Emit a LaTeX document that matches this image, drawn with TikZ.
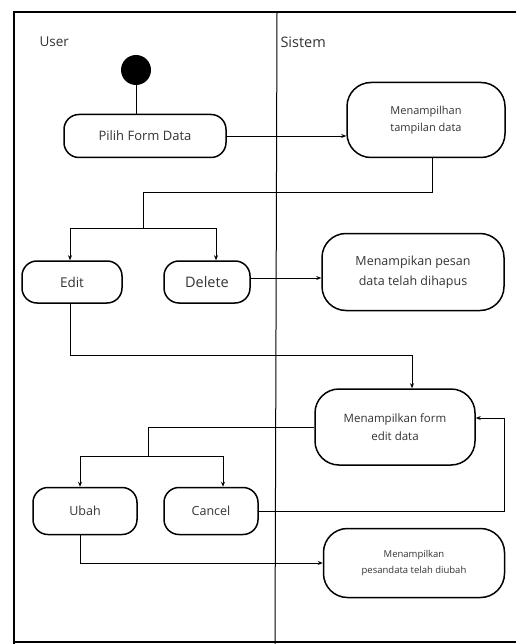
\documentclass[tikz,border=0pt]{standalone}
\usepackage{fontspec}
\setmainfont{Open Sans}
\usetikzlibrary{arrows.meta,positioning}

\begin{document}
\begin{tikzpicture}[
    x=1pt, y=1pt,
    font=\fontsize{11}{14}\selectfont,
    aksi/.style={draw, line width=1.5pt, rounded corners=15pt, align=center,
                 inner sep=2pt, text=black!80},
    sistem/.style={aksi, rounded corners=24pt},
    ukuran/.style={font=\fontsize{#1}{1.6\dimexpr #1pt\relax}\selectfont},
    mulai/.style={circle, fill=black, minimum size=30pt, inner sep=0pt},
    garis/.style={line width=0.9pt},
    panah/.style={-{Stealth[length=5pt, width=4pt]}, line width=0.9pt}
  ]
    \useasboundingbox (0,0) rectangle (516,-644);
    % swimlanes
    \draw[line width=1.2pt] (14,-644) -- (14,-12) -- (516,-12);
    \draw[line width=1.2pt] (14,-642) -- (516,-642);
    \draw[line width=1pt] (277,-12) -- (275,-644);
    \node[anchor=west, text=black!80, ukuran=13.5] (user) at (36,-42) {User};
    \node[anchor=west, text=black!80, ukuran=14.5] (sis) at (277,-42) {Sistem};

    \node[mulai] (awal) at (136,-70) {};
    \node[aksi, ukuran=13, minimum width=162pt, minimum height=43pt] (pilih) at (145,-136) {Pilih Form Data};
    \node[sistem, ukuran=11, minimum width=158pt, minimum height=75pt] (tampil) at (426,-120) {Menampilhan\\tampilan data};
    \node[aksi, ukuran=13.5, minimum width=100pt, minimum height=42pt] (edit) at (72,-282) {Edit};
    \node[aksi, ukuran=14.5, minimum width=86pt, minimum height=42pt] (hapus) at (207,-282) {Delete};
    \node[sistem, ukuran=12.5, minimum width=182pt, minimum height=77pt] (pesanhapus) at (413,-272) {Menampikan pesan\\data telah dihapus};
    \node[sistem, ukuran=11.5, minimum width=160pt, minimum height=76pt] (form) at (395,-427) {Menampilkan form\\edit data};
    \node[aksi, ukuran=12.5, minimum width=104pt, minimum height=47pt] (ubah) at (85,-511) {Ubah};
    \node[aksi, ukuran=12.5, minimum width=94pt, minimum height=47pt] (batal) at (211,-511) {Cancel};
    \node[sistem, ukuran=9.5, minimum width=181pt, minimum height=69pt] (pesanubah) at (414,-563) {Menampilkan\\pesandata telah diubah};

    \coordinate (cabang1) at (143,-228);
    \coordinate (cabang2) at (148,-456);
    \coordinate (hapuskanan) at ([yshift=4pt]hapus.east);

    \draw[garis] (awal) -- (awal |- pilih.north);
    \draw[panah] (pilih.east) -- (tampil.west |- pilih.east);
    \draw[garis] ([xshift=6pt]tampil.south) |- (143,-192) -- (cabang1);
    \draw[panah] (cabang1) -| ([xshift=-2pt]edit.north);
    \draw[panah] (cabang1) -| ([xshift=9pt]hapus.north);
    \draw[panah] (hapuskanan) -- (pesanhapus.west |- hapuskanan);
    \draw[panah] ([xshift=-2pt]edit.south) |- (412,-355) -- ([xshift=17pt]form.north);
    \draw[garis] (form.west) -| (cabang2);
    \draw[panah] (cabang2) -| ([xshift=-5pt]ubah.north);
    \draw[panah] (cabang2) -| ([xshift=12pt]batal.north);
    \draw[panah] (batal.east) -| (504,-418) -- ([yshift=9pt]form.east);
    \draw[panah] ([xshift=-5pt]ubah.south) |- (pesanubah.west);
\end{tikzpicture}
\end{document}
